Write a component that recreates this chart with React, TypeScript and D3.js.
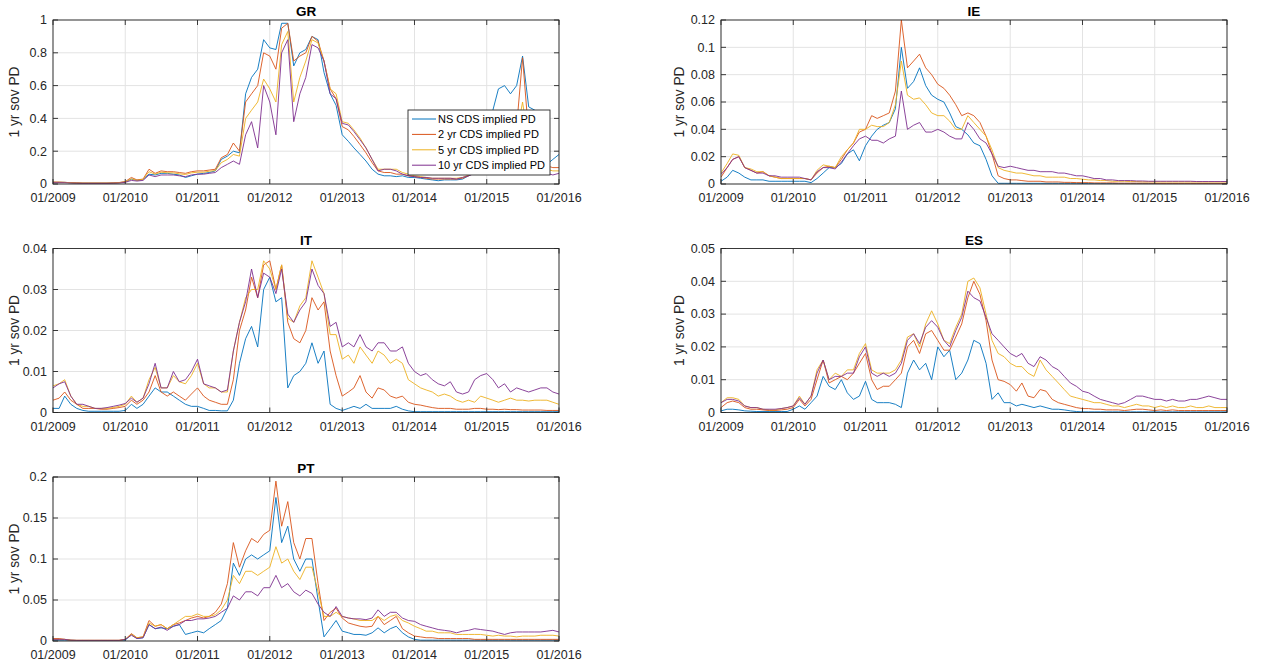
import React from 'react';
import * as d3 from 'd3';

// monthly observations, Jan 2009 .. Jan 2016 (85 points)
const months = d3.timeMonth.range(new Date(2009, 0, 1), new Date(2016, 0, 2));
const yearTicks = d3.timeYear.range(new Date(2009, 0, 1), new Date(2016, 0, 2));

const seriesNames = ['NS CDS implied PD', '2 yr CDS implied PD', '5 yr CDS implied PD', '10 yr CDS implied PD'];
const seriesColors = ['#0072BD', '#D95319', '#EDB120', '#7E2F8E'];

// ---- GR ----
const grNS = [
  0.01, 0.01, 0.01, 0.008, 0.006, 0.005, 0.005, 0.005, 0.005, 0.005, 0.006, 0.008,
  0.012, 0.03, 0.022, 0.028, 0.06, 0.055, 0.065, 0.065, 0.06, 0.055, 0.04, 0.05,
  0.06, 0.065, 0.07, 0.08, 0.15, 0.17, 0.2, 0.19, 0.55, 0.65, 0.7, 0.88,
  0.83, 0.82, 0.98, 0.98, 0.72, 0.8, 0.82, 0.9, 0.88, 0.68, 0.55, 0.48,
  0.3, 0.26, 0.22, 0.18, 0.14, 0.09, 0.06, 0.05, 0.05, 0.045, 0.05, 0.04,
  0.04, 0.035, 0.03, 0.025, 0.02, 0.025, 0.025, 0.025, 0.03, 0.05, 0.07, 0.08,
  0.12, 0.45, 0.58, 0.6, 0.55, 0.6, 0.78, 0.47, 0.45, 0.3, 0.12, 0.15, 0.18,
];
const gr2y = [
  0.012, 0.012, 0.01, 0.008, 0.007, 0.006, 0.006, 0.006, 0.006, 0.006, 0.007, 0.009,
  0.015, 0.04, 0.025, 0.03, 0.09, 0.065, 0.08, 0.075, 0.075, 0.07, 0.065, 0.075,
  0.08, 0.08, 0.085, 0.09, 0.16, 0.18, 0.25, 0.2, 0.5, 0.55, 0.6, 0.8,
  0.78, 0.7, 0.95, 0.98, 0.75, 0.78, 0.8, 0.9, 0.87, 0.75, 0.58, 0.52,
  0.35, 0.33, 0.29, 0.24, 0.19, 0.13, 0.08, 0.07, 0.07, 0.06, 0.06, 0.05,
  0.045, 0.04, 0.035, 0.03, 0.03, 0.03, 0.03, 0.03, 0.035, 0.05, 0.07, 0.08,
  0.1, 0.2, 0.3, 0.3, 0.32, 0.35, 0.77, 0.3, 0.25, 0.15, 0.11, 0.1, 0.1,
];
const gr5y = [
  0.01, 0.01, 0.01, 0.008, 0.006, 0.005, 0.005, 0.005, 0.005, 0.005, 0.006, 0.008,
  0.012, 0.032, 0.022, 0.028, 0.075, 0.06, 0.072, 0.068, 0.068, 0.062, 0.058, 0.068,
  0.072, 0.072, 0.078, 0.082, 0.13, 0.15, 0.18, 0.17, 0.4, 0.45, 0.5, 0.64,
  0.58, 0.5, 0.85, 0.93, 0.5, 0.65, 0.75, 0.88, 0.86, 0.75, 0.58, 0.55,
  0.38, 0.37, 0.33, 0.28, 0.22, 0.15, 0.09, 0.09, 0.09, 0.09, 0.07, 0.06,
  0.05, 0.045, 0.04, 0.035, 0.035, 0.035, 0.035, 0.035, 0.04, 0.055, 0.07, 0.08,
  0.09, 0.18, 0.25, 0.27, 0.28, 0.3, 0.5, 0.25, 0.2, 0.12, 0.09, 0.08, 0.08,
];
const gr10y = [
  0.008, 0.008, 0.008, 0.006, 0.005, 0.004, 0.004, 0.004, 0.004, 0.004, 0.005, 0.006,
  0.01, 0.022, 0.018, 0.022, 0.055, 0.045, 0.055, 0.055, 0.055, 0.05, 0.045, 0.055,
  0.06, 0.06, 0.065, 0.07, 0.1, 0.12, 0.14, 0.12, 0.3, 0.38, 0.22, 0.6,
  0.5, 0.3, 0.8, 0.88, 0.38, 0.55, 0.65, 0.85, 0.83, 0.75, 0.55, 0.52,
  0.37, 0.36, 0.32, 0.27, 0.22, 0.15, 0.08, 0.09, 0.09, 0.08, 0.06, 0.05,
  0.045, 0.04, 0.04, 0.035, 0.035, 0.035, 0.035, 0.03, 0.04, 0.05, 0.065, 0.075,
  0.085, 0.15, 0.2, 0.22, 0.22, 0.24, 0.3, 0.2, 0.15, 0.1, 0.065, 0.055, 0.065,
];

// ---- IE ----
const ieNS = [
  0.002, 0.005, 0.01, 0.008, 0.005, 0.003, 0.003, 0.003, 0.002, 0.002, 0.002, 0.002,
  0.002, 0.002, 0.002, 0.001, 0.004, 0.008, 0.012, 0.012, 0.015, 0.022, 0.025, 0.017,
  0.028, 0.035, 0.04, 0.043, 0.045, 0.055, 0.1, 0.07, 0.075, 0.085, 0.072, 0.065,
  0.062, 0.06, 0.052, 0.042, 0.04, 0.036, 0.03, 0.028, 0.018, 0.006, 0.0005, 0.0005,
  0.0005, 0.0005, 0.0005, 0.0005, 0.0005, 0.0005, 0.0005, 0.0005, 0.0005, 0.0005, 0.0005, 0.0005,
  0.0004, 0.0004, 0.0004, 0.0004, 0.0004, 0.0004, 0.0004, 0.0004, 0.0004, 0.0004, 0.0004, 0.0004,
  0.0003, 0.0003, 0.0003, 0.0003, 0.0003, 0.0003, 0.0003, 0.0003, 0.0003, 0.0003, 0.0003, 0.0003, 0.0003,
];
const ie2y = [
  0.005, 0.012, 0.018, 0.02, 0.012, 0.01, 0.008, 0.009, 0.006, 0.005, 0.004, 0.004,
  0.004, 0.004, 0.004, 0.003, 0.008, 0.012, 0.013, 0.012, 0.018, 0.025, 0.03, 0.038,
  0.04, 0.05, 0.048, 0.05, 0.052, 0.068, 0.12, 0.085, 0.09, 0.095, 0.085, 0.08,
  0.073, 0.07, 0.065, 0.058, 0.05, 0.052, 0.05, 0.045, 0.035, 0.022, 0.006, 0.004,
  0.003, 0.003, 0.0025, 0.002, 0.002, 0.002, 0.0015, 0.0015, 0.0015, 0.0012, 0.0012, 0.001,
  0.001, 0.001, 0.0008, 0.0008, 0.0008, 0.0008, 0.0006, 0.0006, 0.0006, 0.0006, 0.0006, 0.0006,
  0.0005, 0.0005, 0.0005, 0.0005, 0.0005, 0.0005, 0.0005, 0.0005, 0.0005, 0.0005, 0.0005, 0.0005, 0.0005,
];
const ie5y = [
  0.008, 0.015, 0.022, 0.021, 0.012, 0.011, 0.009, 0.009, 0.006, 0.005, 0.004, 0.004,
  0.004, 0.004, 0.004, 0.003, 0.01, 0.014, 0.013, 0.012, 0.02, 0.025, 0.03, 0.04,
  0.04, 0.043, 0.042, 0.042, 0.045, 0.058, 0.09, 0.065, 0.062, 0.063, 0.058, 0.052,
  0.05, 0.05, 0.046, 0.04, 0.04, 0.05, 0.045, 0.04, 0.035, 0.025, 0.012, 0.01,
  0.009, 0.008, 0.008, 0.007, 0.006, 0.006, 0.005, 0.005, 0.005, 0.005, 0.004, 0.004,
  0.0035, 0.003, 0.003, 0.0025, 0.0025, 0.002, 0.002, 0.002, 0.0018, 0.0018, 0.0016, 0.0016,
  0.0015, 0.0015, 0.0015, 0.0015, 0.0015, 0.0015, 0.0015, 0.0015, 0.0015, 0.0015, 0.0015, 0.0015, 0.0015,
];
const ie10y = [
  0.007, 0.012, 0.018, 0.02, 0.012, 0.01, 0.008, 0.008, 0.006, 0.006, 0.005, 0.005,
  0.005, 0.005, 0.004, 0.003, 0.009, 0.012, 0.012, 0.011, 0.016, 0.022, 0.028, 0.033,
  0.035, 0.032, 0.032, 0.03, 0.033, 0.035, 0.068, 0.04, 0.043, 0.045, 0.038, 0.038,
  0.04, 0.038, 0.035, 0.033, 0.033, 0.045, 0.04, 0.033, 0.03, 0.022, 0.013, 0.012,
  0.013, 0.012, 0.011, 0.01, 0.01, 0.009, 0.009, 0.009, 0.008, 0.008, 0.007, 0.006,
  0.006, 0.005, 0.004, 0.004, 0.003, 0.003, 0.0025, 0.0025, 0.0025, 0.0022, 0.0022, 0.002,
  0.002, 0.002, 0.002, 0.002, 0.002, 0.002, 0.002, 0.0018, 0.0018, 0.0018, 0.0018, 0.0018, 0.0018,
];

// ---- IT ----
const itNS = [
  0.001, 0.001, 0.004, 0.002, 0.001, 0.0005, 0.0003, 0.0003, 0.0003, 0.0003, 0.0003, 0.0003,
  0.0005, 0.002, 0.001, 0.002, 0.004, 0.006, 0.005, 0.005, 0.004, 0.003, 0.002, 0.0015,
  0.0015, 0.001, 0.0005, 0.0005, 0.0004, 0.0004, 0.003, 0.012, 0.018, 0.021, 0.016, 0.03,
  0.033, 0.027, 0.028, 0.006, 0.009, 0.01, 0.012, 0.017, 0.012, 0.015, 0.002, 0.001,
  0.0005, 0.001, 0.0015, 0.001, 0.002, 0.001, 0.001, 0.001, 0.001, 0.0015, 0.0008, 0.0004,
  0.0002, 0.0002, 0.0002, 0.0002, 0.0002, 0.0002, 0.0002, 0.0002, 0.0002, 0.0002, 0.0002, 0.0002,
  0.0002, 0.0002, 0.0002, 0.0002, 0.0002, 0.0002, 0.0002, 0.0002, 0.0002, 0.0002, 0.0002, 0.0002, 0.0002,
];
const it2y = [
  0.003, 0.0035, 0.005, 0.003, 0.002, 0.001, 0.001, 0.001, 0.0008, 0.0008, 0.001, 0.0012,
  0.0015, 0.003, 0.002, 0.003, 0.005, 0.009, 0.005, 0.004, 0.005, 0.004, 0.003, 0.0045,
  0.006, 0.004, 0.003, 0.0025, 0.002, 0.002, 0.008, 0.02, 0.025, 0.033, 0.028, 0.036,
  0.037, 0.03, 0.036, 0.022, 0.018, 0.017, 0.02, 0.028, 0.025, 0.027, 0.015, 0.009,
  0.004, 0.005, 0.006, 0.009, 0.005, 0.0035, 0.006, 0.0055, 0.004, 0.0035, 0.004, 0.0025,
  0.002, 0.0018, 0.0015, 0.0012, 0.001, 0.001, 0.001, 0.0008, 0.0008, 0.0008, 0.001, 0.001,
  0.0008, 0.0008, 0.0007, 0.0008, 0.0007, 0.0007, 0.0006, 0.0006, 0.0006, 0.0006, 0.0005, 0.0005, 0.0005,
];
const it5y = [
  0.0065, 0.007, 0.008, 0.004, 0.002, 0.0015, 0.0015, 0.001, 0.001, 0.001, 0.0012, 0.0015,
  0.002, 0.004, 0.0025, 0.0035, 0.008, 0.011, 0.006, 0.006, 0.009, 0.0075, 0.007, 0.009,
  0.012, 0.007, 0.006, 0.006, 0.005, 0.005, 0.015, 0.022, 0.028, 0.03, 0.03, 0.037,
  0.035, 0.03, 0.036, 0.023, 0.022, 0.026, 0.028, 0.037, 0.033, 0.029, 0.019, 0.019,
  0.013, 0.014, 0.012, 0.016, 0.014, 0.012, 0.015, 0.014, 0.012, 0.013, 0.012, 0.008,
  0.007, 0.006, 0.0055, 0.005, 0.004, 0.0045, 0.004, 0.003, 0.0025, 0.003, 0.0025, 0.004,
  0.0035, 0.003, 0.0025, 0.003, 0.0035, 0.003, 0.003, 0.0028, 0.003, 0.003, 0.003, 0.0025, 0.002,
];
const it10y = [
  0.006, 0.007, 0.0075, 0.004, 0.002, 0.002, 0.0015, 0.001, 0.001, 0.0012, 0.0015, 0.0018,
  0.0022, 0.0035, 0.0025, 0.0035, 0.007, 0.012, 0.006, 0.006, 0.01, 0.0075, 0.008, 0.01,
  0.013, 0.007, 0.0065, 0.006, 0.005, 0.0055, 0.015, 0.022, 0.027, 0.035, 0.028, 0.034,
  0.033, 0.029, 0.035, 0.024, 0.022, 0.025, 0.027, 0.035, 0.031, 0.029, 0.021, 0.022,
  0.016, 0.017, 0.016, 0.019, 0.016, 0.015, 0.017, 0.017, 0.015, 0.015, 0.016, 0.012,
  0.01, 0.009, 0.0095, 0.008, 0.007, 0.0065, 0.0075, 0.005, 0.0045, 0.005, 0.008, 0.009,
  0.0095, 0.008, 0.006, 0.007, 0.005, 0.006, 0.0055, 0.005, 0.0055, 0.006, 0.006, 0.005, 0.0045,
];

// ---- ES ----
const esNS = [
  0.0005, 0.001, 0.001, 0.0008, 0.0005, 0.0004, 0.0003, 0.0003, 0.0003, 0.0003, 0.0003, 0.0003,
  0.001, 0.002, 0.001, 0.003, 0.005, 0.011, 0.008, 0.007, 0.01, 0.006, 0.004, 0.005,
  0.0095, 0.004, 0.003, 0.003, 0.003, 0.0025, 0.0015, 0.012, 0.016, 0.013, 0.015, 0.01,
  0.02, 0.017, 0.019, 0.01, 0.012, 0.016, 0.022, 0.021, 0.015, 0.004, 0.006, 0.003,
  0.003, 0.002, 0.0025, 0.002, 0.0015, 0.002, 0.0015, 0.001, 0.001, 0.0008, 0.0005, 0.0003,
  0.0002, 0.0002, 0.0002, 0.0002, 0.0002, 0.0002, 0.0002, 0.0002, 0.0002, 0.0002, 0.0002, 0.0002,
  0.0002, 0.0002, 0.0002, 0.0002, 0.0002, 0.0002, 0.0002, 0.0002, 0.0002, 0.0002, 0.0002, 0.0002, 0.0002,
];
const es2y = [
  0.0015, 0.003, 0.0035, 0.003, 0.0015, 0.001, 0.001, 0.0008, 0.0006, 0.0006, 0.0008, 0.001,
  0.0015, 0.004, 0.002, 0.004, 0.01, 0.016, 0.009, 0.01, 0.011, 0.01, 0.012, 0.015,
  0.018, 0.01, 0.007, 0.008, 0.008, 0.01, 0.012, 0.02, 0.022, 0.018, 0.024, 0.025,
  0.022, 0.019, 0.019, 0.023, 0.027, 0.035, 0.04, 0.036, 0.028, 0.016, 0.01, 0.0095,
  0.0085, 0.0065, 0.009, 0.005, 0.0045, 0.007, 0.0065, 0.004, 0.003, 0.0025, 0.002, 0.0015,
  0.0012, 0.0012, 0.001, 0.001, 0.0008, 0.0008, 0.0008, 0.0006, 0.0008, 0.001, 0.001, 0.0008,
  0.0006, 0.0008, 0.0006, 0.0008, 0.0006, 0.0006, 0.0006, 0.0006, 0.0006, 0.0006, 0.0006, 0.0006, 0.0006,
];
const es5y = [
  0.003, 0.0045, 0.0045, 0.004, 0.002, 0.0015, 0.0015, 0.001, 0.0008, 0.0008, 0.0012, 0.0015,
  0.002, 0.005, 0.0025, 0.005, 0.013, 0.016, 0.01, 0.012, 0.011, 0.013, 0.013, 0.018,
  0.021, 0.013, 0.012, 0.012, 0.012, 0.013, 0.016, 0.023, 0.024, 0.02, 0.027, 0.031,
  0.027, 0.022, 0.021, 0.026, 0.03, 0.04, 0.041, 0.038, 0.03, 0.022, 0.018, 0.017,
  0.015, 0.014, 0.014, 0.012, 0.011, 0.016, 0.013, 0.011, 0.009, 0.007, 0.005, 0.0045,
  0.004, 0.0035, 0.003, 0.003, 0.0025, 0.002, 0.002, 0.0015, 0.002, 0.0025, 0.002, 0.002,
  0.0015, 0.002, 0.0015, 0.002, 0.0015, 0.0015, 0.002, 0.0015, 0.0015, 0.002, 0.0015, 0.0015, 0.0015,
];
const es10y = [
  0.003, 0.004, 0.004, 0.0035, 0.002, 0.0015, 0.0015, 0.001, 0.001, 0.001, 0.0012, 0.0015,
  0.002, 0.0045, 0.0025, 0.005, 0.012, 0.016, 0.01, 0.011, 0.011, 0.012, 0.012, 0.017,
  0.02, 0.012, 0.011, 0.012, 0.011, 0.012, 0.015, 0.022, 0.024, 0.021, 0.026, 0.028,
  0.026, 0.022, 0.02, 0.025, 0.029, 0.037, 0.035, 0.034, 0.029, 0.024, 0.022, 0.02,
  0.018, 0.017, 0.018, 0.015, 0.014, 0.017, 0.016, 0.014, 0.013, 0.011, 0.009, 0.008,
  0.0065, 0.006, 0.005, 0.004, 0.0035, 0.003, 0.0025, 0.003, 0.004, 0.005, 0.005, 0.0045,
  0.004, 0.004, 0.0035, 0.004, 0.0035, 0.0035, 0.004, 0.004, 0.0045, 0.005, 0.0045, 0.004, 0.004,
];

// ---- PT ----
const ptNS = [
  0.001, 0.001, 0.001, 0.0008, 0.0006, 0.0005, 0.0005, 0.0005, 0.0005, 0.0005, 0.0005, 0.0005,
  0.001, 0.008, 0.003, 0.004, 0.02, 0.015, 0.016, 0.015, 0.018, 0.02, 0.008, 0.01,
  0.012, 0.01, 0.015, 0.02, 0.025, 0.04, 0.095, 0.08, 0.1, 0.105, 0.1, 0.105,
  0.11, 0.175, 0.12, 0.14, 0.1, 0.085, 0.1, 0.1, 0.05, 0.005, 0.015, 0.025,
  0.012, 0.01, 0.008, 0.008, 0.007, 0.01, 0.016, 0.01, 0.015, 0.018, 0.01, 0.005,
  0.002, 0.001, 0.001, 0.001, 0.001, 0.001, 0.001, 0.001, 0.001, 0.001, 0.001, 0.001,
  0.001, 0.001, 0.001, 0.001, 0.001, 0.001, 0.001, 0.001, 0.001, 0.001, 0.001, 0.001, 0.001,
];
const pt2y = [
  0.003, 0.003, 0.002, 0.001, 0.0008, 0.0008, 0.0008, 0.0008, 0.0008, 0.0008, 0.0008, 0.0008,
  0.002, 0.009, 0.004, 0.005, 0.025, 0.018, 0.02, 0.015, 0.02, 0.022, 0.025, 0.028,
  0.03, 0.028, 0.03, 0.035, 0.045, 0.07, 0.12, 0.09, 0.11, 0.125, 0.12, 0.13,
  0.135, 0.195, 0.14, 0.17, 0.12, 0.1, 0.125, 0.125, 0.07, 0.025, 0.035, 0.04,
  0.028, 0.022, 0.02, 0.018, 0.017, 0.018, 0.03, 0.02, 0.025, 0.03, 0.015, 0.01,
  0.006, 0.005, 0.004, 0.004, 0.003, 0.003, 0.003, 0.003, 0.003, 0.003, 0.002, 0.002,
  0.002, 0.002, 0.002, 0.002, 0.002, 0.002, 0.002, 0.002, 0.002, 0.002, 0.002, 0.002, 0.002,
];
const pt5y = [
  0.002, 0.002, 0.002, 0.001, 0.0008, 0.0008, 0.0008, 0.0008, 0.0008, 0.0008, 0.0008, 0.0008,
  0.002, 0.008, 0.004, 0.005, 0.022, 0.018, 0.02, 0.015, 0.02, 0.025, 0.03, 0.03,
  0.033, 0.03, 0.03, 0.032, 0.038, 0.05, 0.08, 0.07, 0.085, 0.085, 0.08, 0.085,
  0.09, 0.115, 0.095, 0.1, 0.085, 0.075, 0.09, 0.09, 0.06, 0.03, 0.03, 0.035,
  0.03, 0.028, 0.027, 0.025, 0.025, 0.025, 0.03, 0.025, 0.03, 0.032, 0.025, 0.022,
  0.018, 0.015, 0.012, 0.012, 0.01, 0.01, 0.01, 0.008, 0.008, 0.008, 0.008, 0.008,
  0.007, 0.006, 0.007, 0.006, 0.006, 0.005, 0.006, 0.006, 0.006, 0.007, 0.007, 0.007, 0.006,
];
const pt10y = [
  0.002, 0.002, 0.002, 0.001, 0.0008, 0.0008, 0.0008, 0.0008, 0.0008, 0.0008, 0.0008, 0.0008,
  0.002, 0.007, 0.003, 0.004, 0.02, 0.015, 0.017, 0.013, 0.018, 0.02, 0.025, 0.025,
  0.027, 0.027, 0.028, 0.03, 0.035, 0.04, 0.055, 0.05, 0.06, 0.06, 0.055, 0.065,
  0.065, 0.08, 0.065, 0.07, 0.06, 0.055, 0.062, 0.058, 0.045, 0.035, 0.03, 0.042,
  0.03, 0.028, 0.027, 0.027, 0.026, 0.028, 0.038, 0.03, 0.035, 0.035, 0.028, 0.025,
  0.024, 0.02, 0.018, 0.016, 0.014, 0.013, 0.012, 0.01, 0.012, 0.013, 0.015, 0.014,
  0.013, 0.012, 0.01, 0.008, 0.01, 0.011, 0.011, 0.011, 0.011, 0.011, 0.012, 0.013, 0.011,
];

const grTicks = [0, 0.2, 0.4, 0.6, 0.8, 1];
const ieTicks = [0, 0.02, 0.04, 0.06, 0.08, 0.1, 0.12];
const itTicks = [0, 0.01, 0.02, 0.03, 0.04];
const esTicks = [0, 0.01, 0.02, 0.03, 0.04, 0.05];
const ptTicks = [0, 0.05, 0.1, 0.15, 0.2];

const panels = [
  { title: 'GR', ticks: grTicks, series: [grNS, gr2y, gr5y, gr10y], col: 0, row: 0, legend: true },
  { title: 'IE', ticks: ieTicks, series: [ieNS, ie2y, ie5y, ie10y], col: 1, row: 0, legend: false },
  { title: 'IT', ticks: itTicks, series: [itNS, it2y, it5y, it10y], col: 0, row: 1, legend: false },
  { title: 'ES', ticks: esTicks, series: [esNS, es2y, es5y, es10y], col: 1, row: 1, legend: false },
  { title: 'PT', ticks: ptTicks, series: [ptNS, pt2y, pt5y, pt10y], col: 0, row: 2, legend: false },
];

const cols = [{ x0: 53, x1: 559 }, { x0: 721, x1: 1227 }];
const rows = [{ y0: 20, y1: 184 }, { y0: 248.5, y1: 412.5 }, { y0: 477, y1: 641 }];

const FONT = '"Liberation Sans", Arial, Helvetica, sans-serif';
const INK = '#262626';
const GRID = '#e3e3e3';

const Panel = ({ p, idx }: { p: any; idx: number }) => {
  const { x0, x1 } = cols[p.col];
  const { y0, y1 } = rows[p.row];
  const ymax = p.ticks[p.ticks.length - 1];
  const x = d3.scaleTime().domain([new Date(2009, 0, 1), new Date(2016, 0, 1)]).range([x0, x1]);
  const y = d3.scaleLinear().domain([0, ymax]).range([y1, y0]);
  const line = d3.line<number>().x((_, i) => x(months[i])).y(v => y(v));
  const clipId = `clip${idx}`;
  const tl = 5;

  const lx = x1 - 151;
  const ly = y1 - 74;

  return (
    <g>
      <clipPath id={clipId}>
        <rect x={x0} y={y0} width={x1 - x0} height={y1 - y0} />
      </clipPath>
      <rect x={x0} y={y0} width={x1 - x0} height={y1 - y0} fill="#fff" />
      {yearTicks.map((d, i) => (
        <line key={'gx' + i} x1={x(d)} x2={x(d)} y1={y0} y2={y1} stroke={GRID} strokeWidth={1} />
      ))}
      {p.ticks.map((t: number, i: number) => (
        <line key={'gy' + i} x1={x0} x2={x1} y1={y(t)} y2={y(t)} stroke={GRID} strokeWidth={1} />
      ))}
      <g clipPath={`url(#${clipId})`}>
        {p.series.map((s: number[], i: number) => (
          <path key={'s' + i} d={line(s) || ''} fill="none" stroke={seriesColors[i]} strokeWidth={0.9} strokeLinejoin="round" />
        ))}
      </g>
      <rect x={x0} y={y0} width={x1 - x0} height={y1 - y0} fill="none" stroke={INK} strokeWidth={0.9} />
      {yearTicks.map((d, i) => (
        <g key={'xt' + i}>
          <line x1={x(d)} x2={x(d)} y1={y1} y2={y1 - tl} stroke={INK} strokeWidth={0.9} />
          <line x1={x(d)} x2={x(d)} y1={y0} y2={y0 + tl} stroke={INK} strokeWidth={0.9} />
          <text x={x(d)} y={y1 + 18} textAnchor="middle" fontSize={12.5} fill={INK} fontFamily={FONT}>
            {d3.timeFormat('%m/%Y')(d)}
          </text>
        </g>
      ))}
      {p.ticks.map((t: number, i: number) => (
        <g key={'yt' + i}>
          <line x1={x0} x2={x0 + tl} y1={y(t)} y2={y(t)} stroke={INK} strokeWidth={0.9} />
          <line x1={x1} x2={x1 - tl} y1={y(t)} y2={y(t)} stroke={INK} strokeWidth={0.9} />
          <text x={x0 - 6} y={y(t)} dy="0.35em" textAnchor="end" fontSize={12.5} fill={INK} fontFamily={FONT}>
            {String(t)}
          </text>
        </g>
      ))}
      <text x={(x0 + x1) / 2} y={y0 - 4} textAnchor="middle" fontSize={13.5} fontWeight="bold" fill="#000" fontFamily={FONT}>
        {p.title}
      </text>
      <text
        transform={`translate(${x0 - (p.col === 0 ? 34 : 37)},${(y0 + y1) / 2}) rotate(-90)`}
        textAnchor="middle"
        fontSize={13.75}
        fill={INK}
        fontFamily={FONT}
      >
        1 yr sov PD
      </text>
      {p.legend && (
        <g>
          <rect x={lx} y={ly} width={142} height={65} fill="#fff" stroke={INK} strokeWidth={0.9} />
          {seriesNames.map((n, i) => (
            <g key={'lg' + i}>
              <line x1={lx + 4} x2={lx + 28} y1={ly + 9 + i * 15.4} y2={ly + 9 + i * 15.4} stroke={seriesColors[i]} strokeWidth={1} />
              <text x={lx + 30} y={ly + 9 + i * 15.4} dy="0.35em" fontSize={11} fill="#000" fontFamily={FONT}>
                {n}
              </text>
            </g>
          ))}
        </g>
      )}
    </g>
  );
};

export default function App() {
  return (
    <svg width={1262} height={666} style={{ position: 'absolute', left: 0, top: 0, background: '#fff' }}>
      <rect width={1262} height={666} fill="#fff" />
      {panels.map((p, i) => (
        <Panel key={p.title} p={p} idx={i} />
      ))}
    </svg>
  );
}
